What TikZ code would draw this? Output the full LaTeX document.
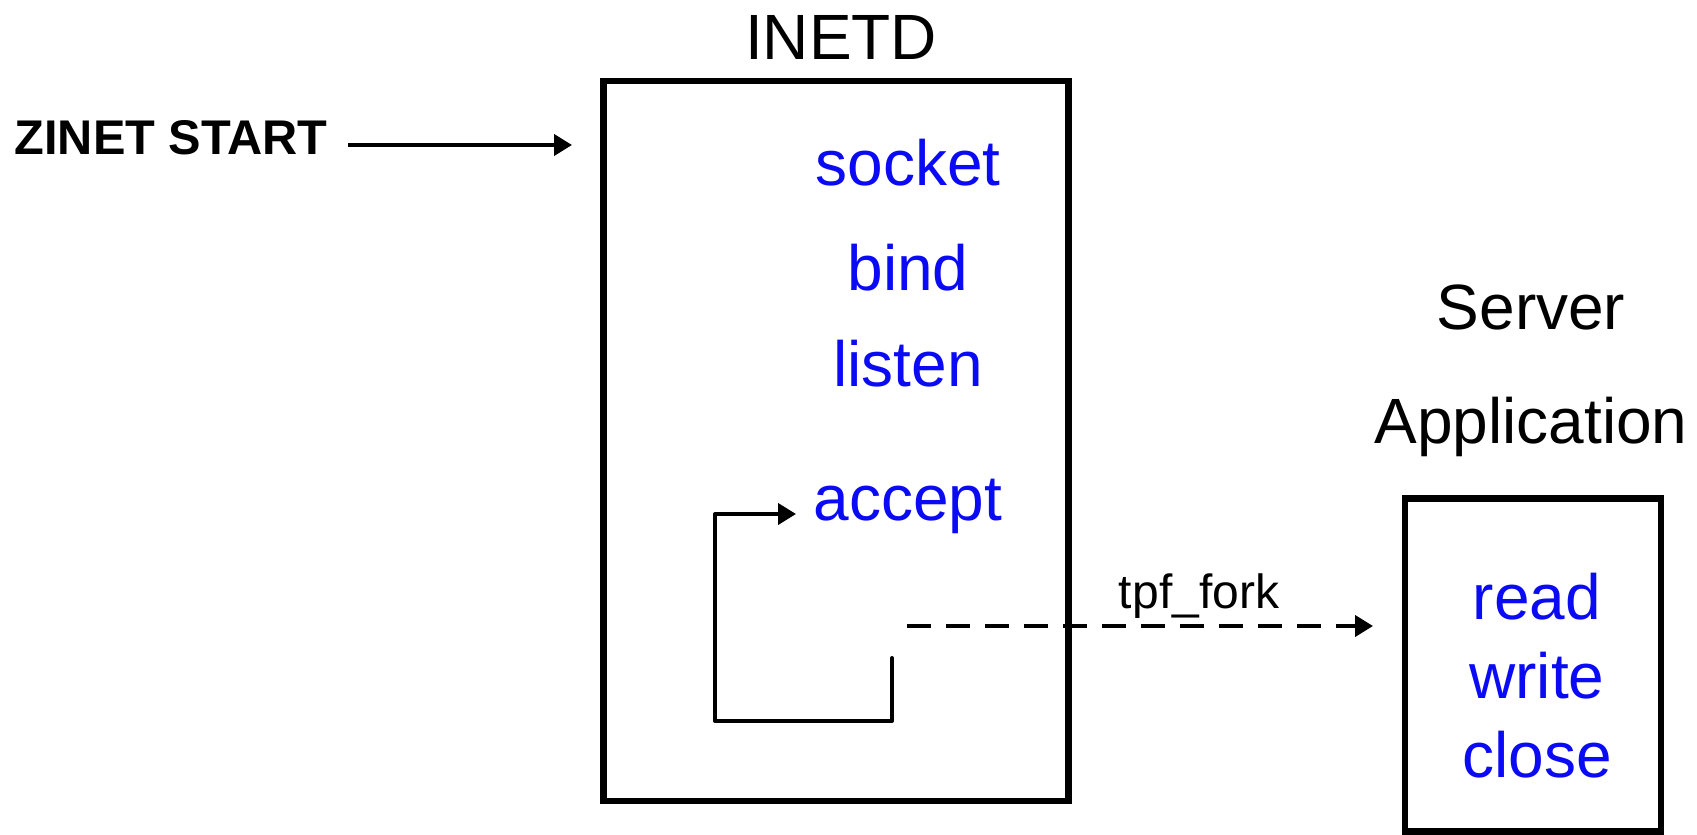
\documentclass[tikz,border=0pt]{standalone}
\usepackage{fontspec}
\setmainfont{Liberation Sans}
\usetikzlibrary{arrows.meta}
\definecolor{fnblue}{RGB}{10,10,245}
\tikzset{
  box/.style={draw=black, line width=6.5pt, inner sep=0pt},
  blk/.style={text=black, inner sep=0pt, font=\fontsize{64}{76}\selectfont},
  fn/.style={text=fnblue, inner sep=0pt, font=\fontsize{64}{76}\selectfont},
  conn/.style={line width=4pt, -{Triangle[length=18pt,width=21pt]}},
}
\begin{document}
\begin{tikzpicture}[x=1pt,y=-1pt]
\useasboundingbox (0,0) rectangle (1697,835);
% boxes
\node[box, minimum width=465pt, minimum height=720pt] (inetd) at (836,441) {};
\node[box, minimum width=256pt, minimum height=333pt] (srv) at (1533,665) {};
% titles
\node[blk] (inetdt) at (841,37) {INETD};
\node[blk] (server) at (1531,307) {Server};
\node[blk] (appl) at (1531,427) {Application};
\node[blk, font=\bfseries\fontsize{48.7}{58}\selectfont] (zinet) at (171,138) {ZINET START};
% functions
\node[fn] (socket) at (908,163) {socket};
\node[fn] (bind) at (908,268) {bind};
\node[fn] (listen) at (908,364) {listen};
\node[fn] (accept) at (908,506) {accept};
\node[fn] (read) at (1537,597) {read};
\node[fn] (write) at (1537,676) {write};
\node[fn] (close) at (1537,755) {close};
\node[blk, font=\fontsize{48}{58}\selectfont] (fork) at (1199,596) {tpf\_fork};
% connectors
\coordinate (zs) at (348,145);
\coordinate (ze) at (572,145);
\draw[conn] (zs) -- (ze);
\coordinate (l0) at (892,658);
\coordinate (l1) at (892,721);
\coordinate (l2) at (715,721);
\coordinate (l3) at (715,514);
\coordinate (l4) at (796,514);
\draw[conn, line cap=round, line join=round] (l0) -- (l1) -- (l2) -- (l3) -- (l4);
\coordinate (d0) at (907,626);
\coordinate (d1) at (1373,626);
\draw[conn, dash pattern=on 24pt off 15pt] (d0) -- (d1);
\end{tikzpicture}
\end{document}
